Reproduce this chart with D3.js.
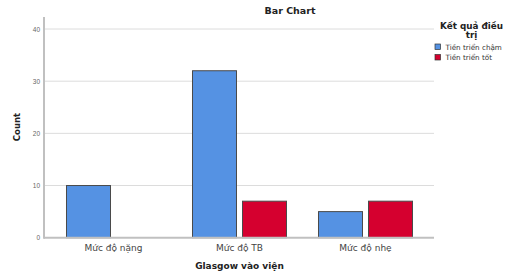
<!DOCTYPE html>
<html><head><meta charset="utf-8">
<script src="https://cdn.jsdelivr.net/npm/d3@7"></script>
<style>body{margin:0;background:#fff}svg{display:block;font-family:"DejaVu Sans",Verdana,sans-serif}</style>
</head><body><svg id="c" width="509" height="273"></svg>
<script>
const categories = ["Mức độ nặng", "Mức độ TB", "Mức độ nhẹ"];
const seriesNames = ["Tiền triển chậm", "Tiền triển tốt"];
const slowValues = [10, 32, 5];
const goodValues = [0, 7, 7];
const yTicks = [0, 10, 20, 30, 40];
const colors = ["#5592E3", "#D5002F"];

const svg = d3.select("#c");
const plotL = 44, plotR = 434, plotT = 17, plotB = 237.7;
const y = d3.scaleLinear().domain([0, 42.3]).range([plotB, plotT]);
const x0 = d3.scaleBand().domain(categories).range([50.5, 428.5]).paddingInner(0.246).paddingOuter(0.123);
const x1 = d3.scaleBand().domain(seriesNames).range([0, x0.bandwidth()]).paddingInner(0.1);

// gridlines
svg.append("g").selectAll("line").data(yTicks.filter(d => d > 0)).join("line")
  .attr("x1", plotL).attr("x2", plotR).attr("y1", d => y(d)).attr("y2", d => y(d))
  .attr("stroke", "#dcdcdc").attr("stroke-width", 1);

// y axis
const yAxis = d3.axisLeft(y).tickValues(yTicks).tickSize(0).tickPadding(4);
const gy = svg.append("g").attr("transform", `translate(${plotL},0)`).call(yAxis);
gy.select(".domain").remove();
gy.selectAll("text").attr("fill", "#666").style("font-size", "6.5px");
svg.append("line").attr("x1", plotL).attr("x2", plotL).attr("y1", plotT).attr("y2", plotB + 1)
  .attr("stroke", "#c0c0c0").attr("stroke-width", 2);

// bars
const data = categories.map((c, i) => ({cat: c, vals: [slowValues[i], goodValues[i]]}));
const g = svg.append("g").selectAll("g").data(data).join("g")
  .attr("transform", d => `translate(${x0(d.cat)},0)`);
g.selectAll("rect").data(d => d.vals.map((v, j) => ({s: seriesNames[j], v, j})).filter(e => e.v > 0))
  .join("rect")
  .attr("x", d => x1(d.s) + 0.5).attr("width", x1.bandwidth() - 1)
  .attr("y", d => y(d.v)).attr("height", d => plotB - y(d.v))
  .attr("fill", d => colors[d.j]).attr("stroke", "#4a4a4a").attr("stroke-width", 1);

// x axis
svg.append("line").attr("x1", plotL).attr("x2", plotR).attr("y1", plotB).attr("y2", plotB)
  .attr("stroke", "#c0c0c0").attr("stroke-width", 2);
const xAxis = d3.axisBottom(x0).tickSize(0).tickPadding(6.5);
const gx = svg.append("g").attr("transform", `translate(0,${plotB})`).call(xAxis);
gx.select(".domain").remove();
gx.selectAll("text").attr("fill", "#444").style("font-size", "9px").style("font-family", "DejaVu Sans");

// titles
svg.append("text").attr("x", 290).attr("y", 14).attr("text-anchor", "middle")
  .style("font-size", "9.5px").style("font-weight", "bold").attr("fill", "#222").text("Bar Chart");
svg.append("text").attr("x", 239.5).attr("y", 268.5).attr("text-anchor", "middle")
  .style("font-size", "9px").style("font-weight", "bold").attr("fill", "#222").text("Glasgow vào viện");
svg.append("text").attr("transform", "translate(19.5,127) rotate(-90)").attr("text-anchor", "middle")
  .style("font-size", "8.5px").style("font-weight", "bold").attr("fill", "#222").text("Count");

// legend
const lg = svg.append("g");
lg.append("text").attr("x", 471.5).attr("y", 29).attr("text-anchor", "middle")
  .style("font-size", "8.8px").style("font-weight", "bold").attr("fill", "#222").text("Kết quả điều");
lg.append("text").attr("x", 471.5).attr("y", 37.5).attr("text-anchor", "middle")
  .style("font-size", "8.8px").style("font-weight", "bold").attr("fill", "#222").text("trị");
const li = lg.selectAll("g.it").data(seriesNames).join("g").attr("class", "it")
  .attr("transform", (d, i) => `translate(435,${44 + i * 10.5})`);
li.append("rect").attr("width", 5.5).attr("height", 5.5).attr("fill", (d, i) => colors[i])
  .attr("stroke", "#333").attr("stroke-width", 0.7);
li.append("text").attr("x", 10.5).attr("y", 5.7).style("font-size", "7.2px").attr("fill", "#333").text(d => d);
</script></body></html>
